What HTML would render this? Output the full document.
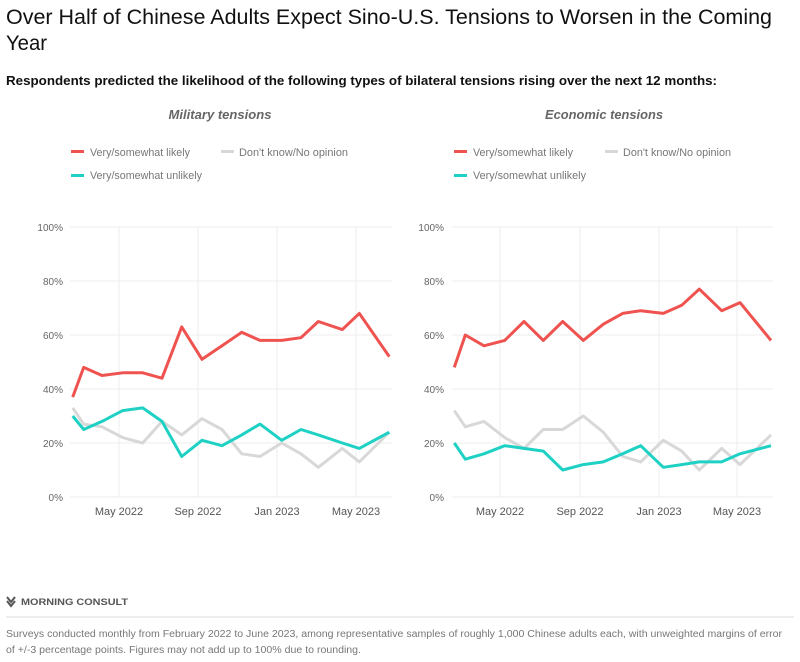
<!DOCTYPE html>
<html><head><meta charset="utf-8"><style>
html,body{margin:0;padding:0;background:#fff;width:800px;height:662px;overflow:hidden}
svg{display:block;font-family:"Liberation Sans",sans-serif}
</style></head><body>
<svg width="800" height="662" viewBox="0 0 800 662" xmlns="http://www.w3.org/2000/svg">
<text x="6" y="24" font-size="21" fill="#111" textLength="766" lengthAdjust="spacingAndGlyphs">Over Half of Chinese Adults Expect Sino-U.S. Tensions to Worsen in the Coming</text>
<text x="6" y="50" font-size="21" fill="#111" textLength="41" lengthAdjust="spacingAndGlyphs">Year</text>
<text x="6" y="85" font-size="13" font-weight="bold" fill="#111" textLength="711" lengthAdjust="spacingAndGlyphs">Respondents predicted the likelihood of the following types of bilateral tensions rising over the next 12 months:</text>
<text x="220" y="119" font-size="13" font-weight="bold" font-style="italic" fill="#666" text-anchor="middle" textLength="103" lengthAdjust="spacingAndGlyphs">Military tensions</text>
<text x="604" y="119" font-size="13" font-weight="bold" font-style="italic" fill="#666" text-anchor="middle" textLength="118" lengthAdjust="spacingAndGlyphs">Economic tensions</text>
<g font-size="11" fill="#777">
<rect x="71" y="150" width="13" height="3" fill="#ef5350"/><text x="90" y="156" textLength="100" lengthAdjust="spacingAndGlyphs">Very/somewhat likely</text>
<rect x="221" y="150" width="13" height="3" fill="#d8d8d8"/><text x="239" y="156" textLength="109" lengthAdjust="spacingAndGlyphs">Don't know/No opinion</text>
<rect x="71" y="174" width="13" height="3" fill="#1fd1c4"/><text x="90" y="179" textLength="112" lengthAdjust="spacingAndGlyphs">Very/somewhat unlikely</text>
<rect x="454" y="150" width="13" height="3" fill="#ef5350"/><text x="473" y="156" textLength="100" lengthAdjust="spacingAndGlyphs">Very/somewhat likely</text>
<rect x="605" y="150" width="13" height="3" fill="#d8d8d8"/><text x="623" y="156" textLength="108" lengthAdjust="spacingAndGlyphs">Don't know/No opinion</text>
<rect x="454" y="174" width="13" height="3" fill="#1fd1c4"/><text x="473" y="179" textLength="113" lengthAdjust="spacingAndGlyphs">Very/somewhat unlikely</text>
</g>
<g stroke="#ececec" stroke-width="1">
<line x1="70" y1="227" x2="392" y2="227"/><line x1="70" y1="281" x2="392" y2="281"/><line x1="70" y1="335" x2="392" y2="335"/><line x1="70" y1="389" x2="392" y2="389"/><line x1="70" y1="443" x2="392" y2="443"/><line x1="70" y1="497" x2="392" y2="497"/>
<line x1="119" y1="227" x2="119" y2="497"/><line x1="198" y1="227" x2="198" y2="497"/><line x1="277" y1="227" x2="277" y2="497"/><line x1="356" y1="227" x2="356" y2="497"/>
<line x1="452" y1="227" x2="773" y2="227"/><line x1="452" y1="281" x2="773" y2="281"/><line x1="452" y1="335" x2="773" y2="335"/><line x1="452" y1="389" x2="773" y2="389"/><line x1="452" y1="443" x2="773" y2="443"/><line x1="452" y1="497" x2="773" y2="497"/>
<line x1="500" y1="227" x2="500" y2="497"/><line x1="580" y1="227" x2="580" y2="497"/><line x1="659" y1="227" x2="659" y2="497"/><line x1="737" y1="227" x2="737" y2="497"/>
</g>
<g font-size="10" fill="#666" text-anchor="end">
<text x="63" y="231">100%</text><text x="63" y="285">80%</text><text x="63" y="339">60%</text><text x="63" y="393">40%</text><text x="63" y="447">20%</text><text x="63" y="501">0%</text>
<text x="444" y="231">100%</text><text x="444" y="285">80%</text><text x="444" y="339">60%</text><text x="444" y="393">40%</text><text x="444" y="447">20%</text><text x="444" y="501">0%</text>
</g>
<g font-size="11" fill="#555" text-anchor="middle">
<text x="119" y="515">May 2022</text><text x="198" y="515">Sep 2022</text><text x="277" y="515">Jan 2023</text><text x="356" y="515">May 2023</text>
<text x="500" y="515">May 2022</text><text x="580" y="515">Sep 2022</text><text x="659" y="515">Jan 2023</text><text x="737" y="515">May 2023</text>
</g>
<g fill="none" stroke-width="3" stroke-linejoin="round">
<polyline stroke="#d8d8d8" points="72.7,407.9 83.7,424.1 102,426.8 122.7,437.6 142.7,443 162,421.4 181.7,434.9 202,418.7 222,429.5 241.7,453.8 260,456.5 281.7,443 301,453.8 318.3,467.3 342.3,448.4 359.3,461.9 389.3,432.2"/>
<polyline stroke="#1fd1c4" points="72.7,416 83.7,429.5 102,421.4 122.7,410.6 142.7,407.9 162,421.4 181.7,456.5 202,440.3 222,445.7 241.7,434.9 260,424.1 281.7,440.3 301,429.5 318.3,434.9 342.3,443 359.3,448.4 389.3,432.2"/>
<polyline stroke="#ef5350" points="72.7,397.1 83.7,367.4 102,375.5 122.7,372.8 142.7,372.8 162,378.2 181.7,326.9 202,359.3 222,345.8 241.7,332.3 260,340.4 281.7,340.4 301,337.7 318.3,321.5 342.3,329.6 359.3,313.4 389.3,356.6"/>
<polyline stroke="#d8d8d8" points="454.3,410.6 465.3,426.8 484,421.4 504.7,437.6 524,448.4 543.3,429.5 562.7,429.5 583.3,416 603.3,432.2 622.7,456.5 640.7,461.9 663.3,440.3 681.7,451.1 699.3,470 721.7,448.4 740,464.6 771,434.9"/>
<polyline stroke="#1fd1c4" points="454.3,443 465.3,459.2 484,453.8 504.7,445.7 524,448.4 543.3,451.1 562.7,470 583.3,464.6 603.3,461.9 622.7,453.8 640.7,445.7 663.3,467.3 681.7,464.6 699.3,461.9 721.7,461.9 740,453.8 771,445.7"/>
<polyline stroke="#ef5350" points="454.3,367.4 465.3,335 484,345.8 504.7,340.4 524,321.5 543.3,340.4 562.7,321.5 583.3,340.4 603.3,324.2 622.7,313.4 640.7,310.7 663.3,313.4 681.7,305.3 699.3,289.1 721.7,310.7 740,302.6 771,340.4"/>
</g>
<path d="M7,597 L11,602 L15,597 M7,601 L11,606 L15,601" stroke="#555" stroke-width="2" fill="none"/>
<text x="21" y="605" font-size="9" font-weight="bold" fill="#555" textLength="107" lengthAdjust="spacingAndGlyphs">MORNING CONSULT</text>
<line x1="6" y1="617" x2="794" y2="617" stroke="#ddd" stroke-width="1"/>
<text x="6" y="637" font-size="10" fill="#777" textLength="776" lengthAdjust="spacingAndGlyphs">Surveys conducted monthly from February 2022 to June 2023, among representative samples of roughly 1,000 Chinese adults each, with unweighted margins of error</text>
<text x="6" y="653" font-size="10" fill="#777" textLength="355" lengthAdjust="spacingAndGlyphs">of +/-3 percentage points. Figures may not add up to 100% due to rounding.</text>
</svg>
</body></html>
